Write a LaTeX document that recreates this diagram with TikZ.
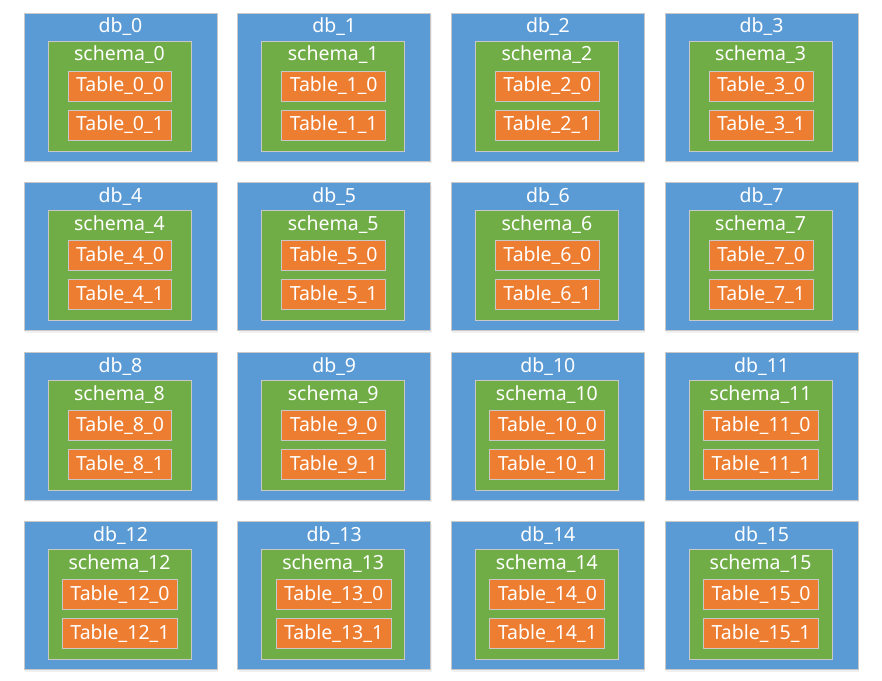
\documentclass[tikz,border=0pt]{standalone}
\usepackage{fontspec}
\setmainfont{Noto Sans}
\usetikzlibrary{shadows}
\definecolor{dbblue}{HTML}{5B9BD5}
\definecolor{schemagreen}{HTML}{70AD47}
\definecolor{tableorange}{HTML}{ED7D31}
\definecolor{edgegray}{HTML}{C8C8C8}
\tikzset{
  dbbox/.style = {draw = edgegray, fill = dbblue, line width = 1pt,
    minimum width = 193pt, minimum height = 148pt, inner sep = 0pt,
    drop shadow = {opacity = .12, shadow xshift = 1pt, shadow yshift = -2pt}},
  schemabox/.style = {draw = edgegray, fill = schemagreen, line width = 1pt,
    minimum width = 143pt, minimum height = 110pt, inner sep = 0pt},
  tablebox/.style = {draw = edgegray, fill = tableorange, line width = 1pt,
    text = white, font = \fontsize{19.5}{22}\selectfont,
    minimum height = 30pt, inner xsep = 8pt, inner ysep = 0pt},
  titletext/.style = {text = white, font = \fontsize{19.5}{22}\selectfont,
    inner sep = 0pt}
}
\begin{document}
\begin{tikzpicture}[x = 1pt, y = -1pt]
  \useasboundingbox (0,0) rectangle (882,680);
  \foreach \i in {0,...,15} {
    \pgfmathtruncatemacro\col{mod(\i,4)}
    \pgfmathtruncatemacro\row{div(\i,4)}
    \pgfmathsetmacro\X{24 + 213.7*\col}
    \pgfmathsetmacro\Y{13 + 169.6*\row}
    % database, schema and its two tables
    \node [dbbox] (db\i) at (\X + 96.5, \Y + 74) {};
    \node [titletext] (dbname\i) at (\X + 96.5, \Y + 14) {db\_\i};
    \node [schemabox] (schema\i) at (\X + 95.5, \Y + 83) {};
    \node [titletext] (schemaname\i) at (\X + 95.5, \Y + 42) {schema\_\i};
    \node [tablebox] (table\i-0) at (\X + 96, \Y + 73) {Table\_\i\_0};
    \node [tablebox] (table\i-1) at (\X + 96, \Y + 112) {Table\_\i\_1};
  }
\end{tikzpicture}
\end{document}
